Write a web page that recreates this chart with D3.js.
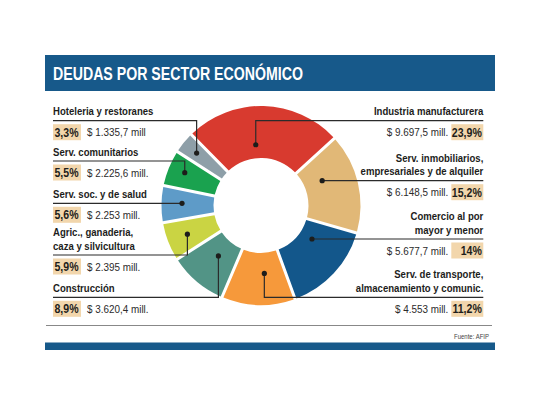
<!DOCTYPE html>
<html lang="es">
<head>
  <meta charset="UTF-8">
  <title>Deudas por sector económico</title>
  <script src="https://d3js.org/d3.v7.min.js"></script>
  <style>
    body { margin: 0; background: #fff; }
    svg text { font-family: "Liberation Sans", Arial, sans-serif; }
    .titulo { fill: #fff; font-weight: bold; font-size: 17.7px; }
    .etiqueta { fill: #1d1d1b; font-weight: bold; font-size: 11px; }
    .monto { fill: #2b2b2b; font-size: 11px; }
    .pct { fill: #1d1d1b; font-weight: bold; font-size: 12px; }
    .guia { stroke: #2b2b2b; stroke-width: 1.2px; fill: none; }
    .punto { fill: #1d1d1b; }
    .fuente { fill: #444; font-size: 7.5px; }
  </style>
</head>
<body>
<svg id="chart"></svg>
<script>
// datos (AFIP)
const sectores = ["Industria manufacturera", "Serv. inmobiliarios, empresariales y de alquiler",
  "Comercio al por mayor y menor", "Serv. de transporte, almacenamiento y comunic.",
  "Construcción", "Agric., ganaderia, caza y silvicultura", "Serv. soc. y de salud",
  "Serv. comunitarios", "Hoteleria y restoranes"];
const etiquetas = [["Industria manufacturera"], ["Serv. inmobiliarios,", "empresariales y de alquiler"],
  ["Comercio al por", "mayor y menor"], ["Serv. de transporte,", "almacenamiento y comunic."],
  ["Construcción"], ["Agric., ganaderia,", "caza y silvicultura"], ["Serv. soc. y de salud"],
  ["Serv. comunitarios"], ["Hoteleria y restoranes"]];
const porcentajes = [23.9, 15.2, 14, 11.2, 8.9, 5.9, 5.6, 5.5, 3.3];
const montos = ["$ 9.697,5 mill.", "$ 6.148,5 mill.", "$ 5.677,7 mill.", "$ 4.553 mill.",
  "$ 3.620,4 mill.", "$ 2.395 mill.", "$ 2.253 mill.", "$ 2.225,6 mill.", "$ 1.335,7 mill"];
const colores = ["#d83a2f", "#e1b877", "#13578b", "#f6993b", "#529486", "#cad443", "#5e9bc8", "#1aa24f", "#8e9fa8"];

// layout de las etiquetas: lado, altura de la linea guia, tipo de guia, radio y posicion del punto
const lado = ["r", "r", "r", "r", "l", "l", "l", "l", "l"];
const lineaY = [120.7, 180.7, 239, 297.3, 297.3, 255, 203.3, 161, 120.7];
const guia = ["v", "h", "h", "v", "v", "v", "h", "v", "v"];
const radioPunto = [61, 66, 61, 68, 66, 79, 79, 83, 83];
const posPunto = [0.43, 0.5, 0.5, 0.4, 0.5, 0.5, 0.5, 0.55, 0.5];

const width = 540, height = 405;
const cx = 261, cy = 205.5, rOut = 99.5, rIn = 47.5;
const xIzq = 53, xDer = 483.3;
const angosto = 0.87; // tipografia condensada

const svg = d3.select("#chart").attr("width", width).attr("height", height);

function texto(cls, x, y, anchor, s, sx) {
  return svg.append("text").attr("class", cls)
    .attr("transform", `translate(${x},${y}) scale(${sx || angosto},1)`)
    .attr("text-anchor", anchor).text(s);
}

// cabecera y pie
svg.append("rect").attr("x", 45).attr("y", 55).attr("width", 450).attr("height", 36).attr("fill", "#17598a");
svg.append("text").attr("class", "titulo").attr("x", 53).attr("y", 79.5)
  .attr("textLength", 250).attr("lengthAdjust", "spacingAndGlyphs")
  .text("DEUDAS POR SECTOR ECONÓMICO");
svg.append("line").attr("x1", 46).attr("x2", 492).attr("y1", 325.5).attr("y2", 325.5)
  .attr("stroke", "#888").attr("stroke-width", 1);
texto("fuente", 489, 338.5, "end", "Fuente: AFIP", 0.8);
svg.append("rect").attr("x", 45).attr("y", 342.5).attr("width", 450).attr("height", 7.5).attr("fill", "#17598a");

// dona
const a0 = -44.5 * Math.PI / 180;
const pie = d3.pie().sort(null).startAngle(a0).endAngle(a0 + 2 * Math.PI);
const arcos = pie(porcentajes);
const arc = d3.arc().innerRadius(rIn).outerRadius(rOut).padAngle(0.03).padRadius(100);

const g = svg.append("g").attr("transform", `translate(${cx},${cy})`);
g.selectAll("path").data(arcos).join("path")
  .attr("d", arc)
  .attr("fill", (d, i) => colores[i]);

// punto de anclaje de cada sector
function punto(d, i) {
  const r = radioPunto[i];
  if (guia[i] == "h") {
    const dy = lineaY[i] - cy;
    const s = lado[i] == "r" ? 1 : -1;
    return [cx + s * Math.sqrt(r * r - dy * dy), lineaY[i]];
  }
  const ang = d.startAngle + (d.endAngle - d.startAngle) * posPunto[i];
  return [cx + r * Math.sin(ang), cy - r * Math.cos(ang)];
}

const fmtPct = v => (v % 1 ? v.toFixed(1).replace(".", ",") : v) + "%";

arcos.forEach((d, i) => {
  const p = punto(d, i);
  const der = lado[i] == "r";
  const xEnd = der ? xDer : xIzq;
  const ly = lineaY[i];
  const pts = guia[i] == "h" ? [p, [xEnd, ly]] : [p, [p[0], ly], [xEnd, ly]];

  // caja del porcentaje
  const bw = der ? 32 : 28;
  const bx = der ? xDer - bw : xIzq;
  svg.append("rect").attr("x", bx).attr("y", ly + 3.5).attr("width", bw).attr("height", 16)
    .attr("fill", "#f2d6ac");
  texto("pct", der ? xDer - 1.5 : xIzq + 1.5, ly + 15.8, der ? "end" : "start", fmtPct(porcentajes[i]), 0.88);
  texto("monto", der ? bx - 3 : bx + bw + 6, ly + 15.5, der ? "end" : "start", montos[i], 0.9);

  const lineas = etiquetas[i];
  lineas.forEach((t, k) => {
    texto("etiqueta", xEnd, ly - 5.5 - (lineas.length - 1 - k) * 13.4, der ? "end" : "start", t);
  });

  svg.append("path").attr("class", "guia").attr("d", d3.line()(pts));
  svg.append("circle").attr("class", "punto").attr("cx", p[0]).attr("cy", p[1]).attr("r", 2.6);
});
</script>
</body>
</html>
